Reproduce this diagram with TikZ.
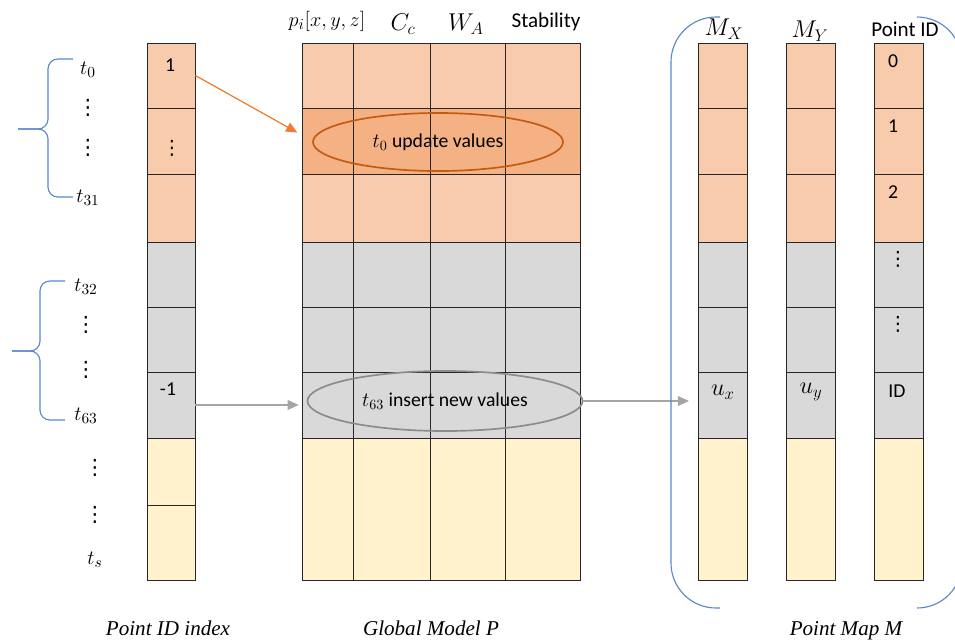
\documentclass[tikz,border=0pt]{standalone}
\usepackage{fontspec}
\setmainfont{Carlito}
\newfontfamily\capfont{Liberation Serif}
\newfontfamily\symfont{DejaVu Sans}
\usetikzlibrary{shapes,arrows.meta,positioning}

\definecolor{peach}{HTML}{F8CBAD}
\definecolor{deeppeach}{HTML}{F4B183}
\definecolor{lightgrey}{HTML}{D9D9D9}
\definecolor{cream}{HTML}{FFF2CC}
\definecolor{rust}{HTML}{C55A11}
\definecolor{tangerine}{HTML}{ED7D31}
\definecolor{arrowgrey}{HTML}{A5A5A5}
\definecolor{ringgrey}{HTML}{8C8C8C}
\definecolor{bracketblue}{HTML}{5B86D0}

% vertical dots as one glyph
\newcommand{\vdotsbox}{{\symfont ⋮}}

\tikzstyle{cell} = [draw=black!85, rectangle, line width=0.6pt, inner sep=0pt]
\tikzstyle{conn} = [line width=0.9pt, -{Triangle[length=8pt,width=7pt]}]
\tikzstyle{brace} = [draw=bracketblue, line width=0.8pt, rounded corners=7pt]
\tikzstyle{bigbrace} = [draw=bracketblue, line width=0.8pt, rounded corners=32pt]
\tikzstyle{txt} = [font=\fontsize{14}{16}\selectfont, inner sep=0pt]
\tikzstyle{head} = [font=\fontsize{15}{17}\selectfont, inner sep=0pt]
\tikzstyle{mhead} = [font=\fontsize{17}{19}\selectfont, inner sep=0pt]
\tikzstyle{caption} = [font=\capfont\itshape\fontsize{15}{17}\selectfont, inner sep=0pt]

\begin{document}
\begin{tikzpicture}[x=0.025cm, y=-0.025cm]
\useasboundingbox (0,0) rectangle (955,641);

% Point ID index column
\foreach \ya/\yb/\fc [count=\r] in {43/108/peach,108/174/peach,174/242/peach,242/307/lightgrey,307/372/lightgrey,372/438/lightgrey,438/505/cream,505/580/cream}
  \node [cell, fill=\fc, minimum width=1.2cm, minimum height={(\yb-\ya)*0.025cm}](idx-\r) at (171,{(\ya+\yb)/2}){};

% Global model columns
\foreach \xa/\xb/\nm in {302/353/a,353/430/b,430/505/c,505/580/d}
  \foreach \ya/\yb/\fc [count=\r] in {43/108/peach,108/174/deeppeach,174/242/peach,242/307/lightgrey,307/372/lightgrey,372/438/lightgrey,438/580/cream}
    \node [cell, fill=\fc, minimum width={(\xb-\xa)*0.025cm}, minimum height={(\yb-\ya)*0.025cm}](p-\nm-\r) at ({(\xa+\xb)/2},{(\ya+\yb)/2}){};

% Point map columns
\foreach \xa/\nm in {698/mx,786/my,874/id}
  \foreach \ya/\yb/\fc [count=\r] in {43/108/peach,108/174/peach,174/242/peach,242/307/lightgrey,307/372/lightgrey,372/438/lightgrey,438/580/cream}
    \node [cell, fill=\fc, minimum width=1.225cm, minimum height={(\yb-\ya)*0.025cm}](\nm-\r) at ({\xa+24.5},{(\ya+\yb)/2}){};

% Headers
\node [head](hp) at (327,21){$p_i[x,y,z]$};
\node [mhead](hc) at (403,24){$C_c$};
\node [mhead](hw) at (466,24){$W_A$};
\node [head](hs) at (546,22){Stability};
\node [mhead](hmx) at (724,29){$M_X$};
\node [mhead](hmy) at (810,31){$M_Y$};
\node [head](hid) at (905,29){Point ID};

% Cell entries
\node [txt](one) at (170,65){1};
\node [txt](dots) at (172,148){\vdotsbox};
\node [txt](minus) at (168,389){-1};
\node [mhead](ux) at (723,392){$u_x$};
\node [mhead](uy) at (811,392){$u_y$};
\foreach \y/\lab [count=\i] in {61/0,126/1,192/2}
  \node [txt](pid-\i) at (893,\y){\lab};
\node [txt](pdots1) at (898,259){\vdotsbox};
\node [txt](pdots2) at (898,324){\vdotsbox};
\node [txt](pidx) at (897,391){ID};

% Ellipses
\node [txt, ellipse, draw=rust, line width=1.2pt, minimum width=6.25cm, minimum height=1.45cm](upd) at (438,142){$t_0$ update values};
\node [txt, ellipse, draw=ringgrey, line width=1.2pt, minimum width=6.875cm, minimum height=1.5cm](ins) at (445,401){$t_{63}$ insert new values};

% Thread labels
\foreach \x/\y/\lab [count=\i] in {88/70/$t_0$,88/108/\vdotsbox,88/148/\vdotsbox,88/198/$t_{31}$,86/287/$t_{32}$,86/325/\vdotsbox,86/370/\vdotsbox,86/416/$t_{63}$,95/468/\vdotsbox,95/515/\vdotsbox,95/560/$t_s$}
  \node [head](th-\i) at (\x,\y){\lab};

% Captions
\node [caption](capidx) at (168,628){Point ID index};
\node [caption](capglob) at (431,628){Global Model P};
\node [caption](capmap) at (846,631){Point Map M};

% Place lines
\coordinate (mxin) at (689,401);
\draw [conn, tangerine] (idx-1.east) -- ([xshift=-3pt, yshift=6pt]p-a-2.west);
\draw [conn, arrowgrey] (idx-6.east) -- ([xshift=-2pt]p-a-6.west);
\draw [conn, arrowgrey] (ins.east) -- (mxin);

% Braces
\draw [brace] (73,59) -- (48,59) -- (48,129) -- (18,129);
\draw [brace] (18,129) -- (48,129) -- (48,197) -- (73,197);
\draw [brace] (65,281) -- (40,281) -- (40,351) -- (12,351);
\draw [brace] (12,351) -- (40,351) -- (40,420) -- (65,420);
\draw [bigbrace] (720,17) -- (671,17) -- (671,608) -- (720,608);
\draw [bigbrace] (917,17) -- (962,17) -- (962,608) -- (917,608);

\end{tikzpicture}
\end{document}
